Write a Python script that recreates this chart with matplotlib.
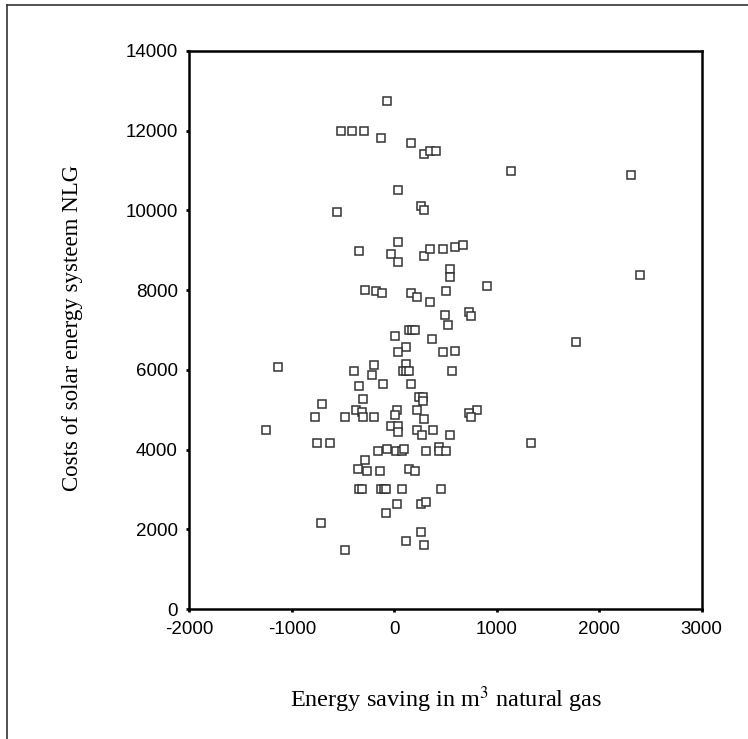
import numpy as np
import matplotlib
matplotlib.use("Agg")
import matplotlib.pyplot as plt
from matplotlib.lines import Line2D

# ========== DATA ==========
energy_saving = [
    -70, -520, -410, -300, -128, 165, 292, 348, 403, 38,
    -557, 257, 292, 1138, 2313, 38, -342, -36, 38, 292,
    348, 472, 595, 673, 543, 543, 2401, -284, -179, -124,
    165, 218, 345, 507, 907, 491, 526, 728, 745, 143,
    172, 198, 3, 364, 113, 38, 472, 595, 1770, -1136,
    -394, -196, -215, 111, 84, 113, 143, 560, -342, -108,
    165, 243, 282, 282, -306, -704, -378, -319, 26, 6,
    218, -772, -485, -306, -196, 292, -36, 38, 38, -1256,
    218, 273, 380, 543, 804, 728, 745, -758, -628, -160,
    -69, 13, 77, 97, 309, 433, 433, 507, 1337, -284,
    -358, -264, -143, 146, 201, -342, -319, -128, -101, -82,
    74, 455, 23, 257, 309, -85, -716, 257, 113, 292,
    -485,
]
solar_cost = [
    12750, 12000, 12000, 12000, 11820, 11680, 11410, 11490, 11500, 10520,
    9960, 10100, 10010, 10980, 10890, 9220, 8990, 8900, 8710, 8850,
    9040, 9040, 9090, 9130, 8520, 8340, 8390, 8000, 7970, 7920,
    7920, 7830, 7700, 7970, 8100, 7370, 7130, 7460, 7360, 7000,
    7000, 7000, 6850, 6770, 6570, 6440, 6440, 6480, 6710, 6060,
    5970, 6110, 5880, 6150, 5970, 5970, 5970, 5970, 5600, 5650,
    5650, 5330, 5330, 5230, 5280, 5140, 5000, 4940, 5000, 4860,
    5000, 4810, 4810, 4810, 4810, 4770, 4600, 4590, 4430, 4480,
    4480, 4360, 4480, 4360, 5000, 4910, 4810, 4160, 4160, 3970,
    4010, 3970, 3970, 4010, 3970, 4070, 3970, 3970, 4160, 3740,
    3510, 3470, 3470, 3510, 3470, 3000, 3000, 3000, 3000, 3000,
    3000, 3000, 2630, 2630, 2680, 2400, 2170, 1940, 1710, 1610,
    1470,
]
x_ticks = [-2000, -1000, 0, 1000, 2000, 3000]
y_ticks = [0, 2000, 4000, 6000, 8000, 10000, 12000, 14000]

plt.rcParams['font.family'] = ['Liberation Sans', 'DejaVu Sans']
plt.rcParams['mathtext.fontset'] = 'stix'
plt.rcParams['axes.unicode_minus'] = False  # plain hyphen like the original

fig = plt.figure(figsize=(7.48, 7.39), dpi=100)
ax = fig.add_axes([0.2533, 0.1759, 0.6848, 0.7551])

ax.plot(energy_saving, solar_cost, linestyle='none', marker='s', markersize=5.6,
        markerfacecolor='white', markeredgecolor='#333333', markeredgewidth=1.1)

ax.set_xlim(-2000, 3000)
ax.set_ylim(0, 14000)
ax.set_xticks(x_ticks)
ax.set_yticks(y_ticks)
ax.tick_params(direction='out', length=2.5, width=2, color='black',
               labelsize=13.5, pad=6)
for s in ax.spines.values():
    s.set_linewidth(1.8)
    s.set_color('black')

# axis titles (Times-like serif)
fig.text(0.597, 0.053, r'Energy saving in m$^{3}$ natural gas', ha='center', va='center',
         family='Liberation Serif', fontsize=17.5)
fig.text(0.097, 0.556, 'Costs of solar energy systeem NLG', ha='center', va='center',
         rotation=90, family='Liberation Serif', fontsize=16.5)

# outer frame (top and left edges visible)
fig.add_artist(Line2D([0.0094, 1.0], [0.9926, 0.9926], transform=fig.transFigure,
                      color='#333333', linewidth=1.2))
fig.add_artist(Line2D([0.0094, 0.0094], [0.0, 0.9926], transform=fig.transFigure,
                      color='#333333', linewidth=1.2))

fig.savefig("out.png", dpi=100, facecolor='white')
